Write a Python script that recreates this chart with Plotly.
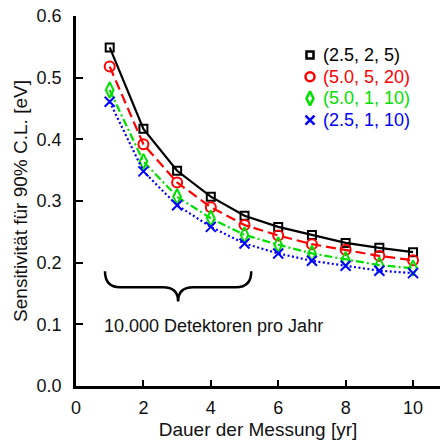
import plotly.graph_objects as go

years = [1, 2, 3, 4, 5, 6, 7, 8, 9, 10]
s_black = [0.549, 0.417, 0.349, 0.307, 0.276, 0.258, 0.245, 0.232, 0.224, 0.217]
s_red = [0.518, 0.392, 0.330, 0.290, 0.261, 0.244, 0.230, 0.221, 0.211, 0.204]
s_green = [0.480, 0.364, 0.307, 0.272, 0.245, 0.229, 0.215, 0.205, 0.196, 0.191]
s_blue = [0.461, 0.348, 0.293, 0.258, 0.231, 0.215, 0.203, 0.195, 0.187, 0.183]
labels = ["(2.5, 2, 5)", "(5.0, 5, 20)", "(5.0, 1, 10)", "(2.5, 1, 10)"]
colors = ["#000000", "#ff0000", "#00e000", "#0000ff"]
dashes = ["solid", "10px,5px", "8px,3px,2px,3px", "2px,2.5px"]
symbols = ["square-open", "circle-open", "diamond-tall-open", "x-thin-open"]
msizes = [8, 10, 11, 10]
series = [s_black, s_red, s_green, s_blue]

FONT = "Liberation Sans, Arial, sans-serif"
TXT = "#111111"
fig = go.Figure()
for ys, c, d, sym, ms in zip(series, colors, dashes, symbols, msizes):
    fig.add_trace(go.Scatter(
        x=years, y=ys, mode="lines+markers", showlegend=False,
        line=dict(color=c, width=2.2, dash=d),
        marker=dict(symbol=sym, size=ms, color=c, line=dict(color=c, width=2)),
    ))

# manual legend on an overlay axis measured in pixels
leg_x, leg_y0, leg_dy = 310, 55, 21.7
for i, (lab, c, sym, ms) in enumerate(zip(labels, colors, symbols, msizes)):
    yy = leg_y0 + i * leg_dy
    fig.add_trace(go.Scatter(
        x=[leg_x], y=[yy], xaxis="x2", yaxis="y2", mode="markers", showlegend=False,
        marker=dict(symbol=sym, size=ms - 1, color=c, line=dict(color=c, width=2.5)),
    ))
    fig.add_annotation(x=leg_x + 11, y=yy, xref="x2", yref="y2", xanchor="left",
                       yanchor="middle", text=lab, showarrow=False,
                       font=dict(family=FONT, size=18, color=c))

# curly brace annotation for the first five years
bx0, bx1, ytop, ymid, ytip = 0.86, 5.2, 0.186, 0.160, 0.137
xc = (bx0 + bx1) / 2
dx = 0.45
path = (f"M {bx0},{ytop} Q {bx0},{ymid} {bx0+dx},{ymid} L {xc-dx},{ymid} "
        f"Q {xc},{ymid} {xc},{ytip} Q {xc},{ymid} {xc+dx},{ymid} "
        f"L {bx1-dx},{ymid} Q {bx1},{ymid} {bx1},{ytop}")
fig.add_shape(type="path", path=path, xref="x", yref="y",
              line=dict(color="black", width=2.5))
fig.add_annotation(x=0.78, y=0.097, xref="x", yref="y", xanchor="left",
                   text="10.000 Detektoren pro Jahr", showarrow=False,
                   font=dict(family=FONT, size=18, color=TXT))

fig.update_layout(
    width=445, height=446,
    margin=dict(l=76, r=5, t=16, b=60),
    paper_bgcolor="white", plot_bgcolor="white",
    font=dict(family=FONT, size=18, color=TXT),
    showlegend=False,
    xaxis2=dict(overlaying="x", range=[76, 440], visible=False, fixedrange=True),
    yaxis2=dict(overlaying="y", range=[386, 16], visible=False, fixedrange=True),
    xaxis=dict(range=[0, 10.8], tickvals=[0, 2, 4, 6, 8, 10],
               ticks="inside", ticklen=6, tickwidth=2, tickcolor="black",
               ticklabelstandoff=4,
               showline=True, linewidth=2.5, linecolor="black",
               showgrid=False, zeroline=False,
               title=dict(text="Dauer der Messung [yr]", font=dict(size=19), standoff=6)),
    yaxis=dict(range=[0, 0.6], tickvals=[0, 0.1, 0.2, 0.3, 0.4, 0.5, 0.6],
               tickformat=".1f",
               ticks="inside", ticklen=7, tickwidth=2, tickcolor="black",
               ticklabelstandoff=8,
               showline=True, linewidth=2.5, linecolor="black",
               showgrid=False, zeroline=False,
               title=dict(text="Sensitivität für 90% C.L. [eV]", font=dict(size=19), standoff=4)),
)
fig.write_html("out.html")
